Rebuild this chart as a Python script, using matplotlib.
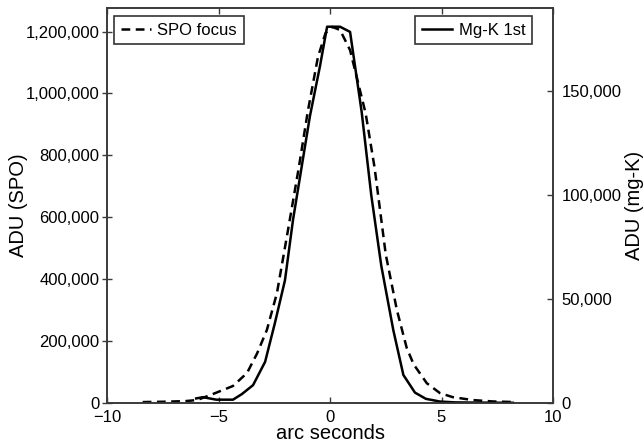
import matplotlib
matplotlib.use("Agg")
import matplotlib.pyplot as plt
from matplotlib.ticker import FuncFormatter

plt.rcParams['font.family'] = ['Liberation Sans', 'DejaVu Sans']

# SPO focus (left axis, dashed)
spo_x = [-8.4, -7.5, -6.5, -5.95, -5.25, -4.35, -3.72, -3.27, -2.83, -2.38, -1.88,
         -1.4, -1.0, -0.54, -0.2, 0.1, 0.45, 0.9, 1.6, 2.0, 2.5, 3.0, 3.44, 3.75,
         4.34, 4.93, 5.5, 6.4, 7.3, 8.3]
spo_y = [3000, 4000, 6000, 9700, 29000, 55000, 97000, 160000, 236000, 355000, 560000,
         760000, 940000, 1118000, 1195000, 1215000, 1205000, 1140000, 935000, 760000,
         480000, 300000, 178000, 125000, 64000, 32000, 19000, 9500, 5000, 3000]

# Mg-K 1st (right axis, solid)
mgk_x = [-6.0, -5.7, -5.1, -4.35, -3.95, -3.45, -2.91, -2.47, -2.02, -1.66, -0.9,
         -0.45, -0.13, 0.45, 0.9, 1.42, 1.85, 2.3, 2.84, 3.29, 3.81, 4.3, 4.93,
         5.6, 6.5, 7.4, 8.2]
mgk_y = [2200, 2800, 1600, 1600, 4300, 8600, 19800, 38500, 59000, 88000, 138000,
         162000, 181000, 181000, 178500, 140000, 100000, 66000, 35000, 13500, 5000,
         2000, 700, 300, 200, 150, 100]

x_ticks = [-10, -5, 0, 5, 10]
spo_ticks = [0, 200000, 400000, 600000, 800000, 1000000, 1200000]
mgk_ticks = [0, 50000, 100000, 150000]

fig = plt.figure(figsize=(6.44, 4.44), dpi=100)
ax = fig.add_axes([107/644, 41/444, 446/644, 395/444])
ax2 = ax.twinx()

spine_c = '#3a3a3a'
ax.plot(spo_x, spo_y, color='black', lw=1.8, ls=(0, (3.5, 2.2)), label='SPO focus')
ax2.plot(mgk_x, mgk_y, color='black', lw=1.8, ls='-', label='Mg-K 1st')

ax.set_xlim(-10, 10)
ax.set_ylim(0, 1276000)
ax2.set_ylim(0, 190000)
ax.set_xticks(x_ticks)
ax.set_xticklabels(['\u221210', '\u22125', '0', '5', '10'])
ax.set_yticks(spo_ticks)
ax2.set_yticks(mgk_ticks)
fmt = FuncFormatter(lambda v, p: f"{int(v):,}")
ax.yaxis.set_major_formatter(fmt)
ax2.yaxis.set_major_formatter(fmt)

for a in (ax, ax2):
    for s in a.spines.values():
        s.set_color(spine_c)
        s.set_linewidth(1.2)

ax.tick_params(axis='x', which='both', direction='in', top=True, bottom=True,
               length=4, width=1, color=spine_c, labelsize=12, pad=5)
ax.tick_params(axis='y', direction='inout', length=7, width=1, color=spine_c,
               labelsize=12, pad=2)
ax2.tick_params(axis='y', direction='in', length=4, width=1, color=spine_c,
                labelsize=12, pad=6)

ax.set_xlabel('arc seconds', fontsize=14.5)
ax.xaxis.set_label_coords(0.5, -0.052)
ax.set_ylabel('ADU (SPO)', fontsize=14.5)
ax.yaxis.set_label_coords(-0.177, 0.5)
ax2.set_ylabel('ADU (mg-K)', fontsize=14.5)
ax2.yaxis.set_label_coords(1.161, 0.5)

leg1 = ax.legend(loc='upper left', bbox_to_anchor=(0.0157, 0.98), fontsize=12,
                 frameon=True, fancybox=False, handlelength=1.8,
                 handletextpad=0.4, borderpad=0.4, borderaxespad=0)
leg1.get_frame().set_edgecolor('black')
leg1.get_frame().set_linewidth(1.2)
leg2 = ax2.legend(loc='upper right', bbox_to_anchor=(0.953, 0.98), fontsize=12,
                  frameon=True, fancybox=False, handlelength=1.8,
                  handletextpad=0.4, borderpad=0.4, borderaxespad=0)
leg2.get_frame().set_edgecolor('black')
leg2.get_frame().set_linewidth(1.2)

fig.savefig('out.png', dpi=100)
